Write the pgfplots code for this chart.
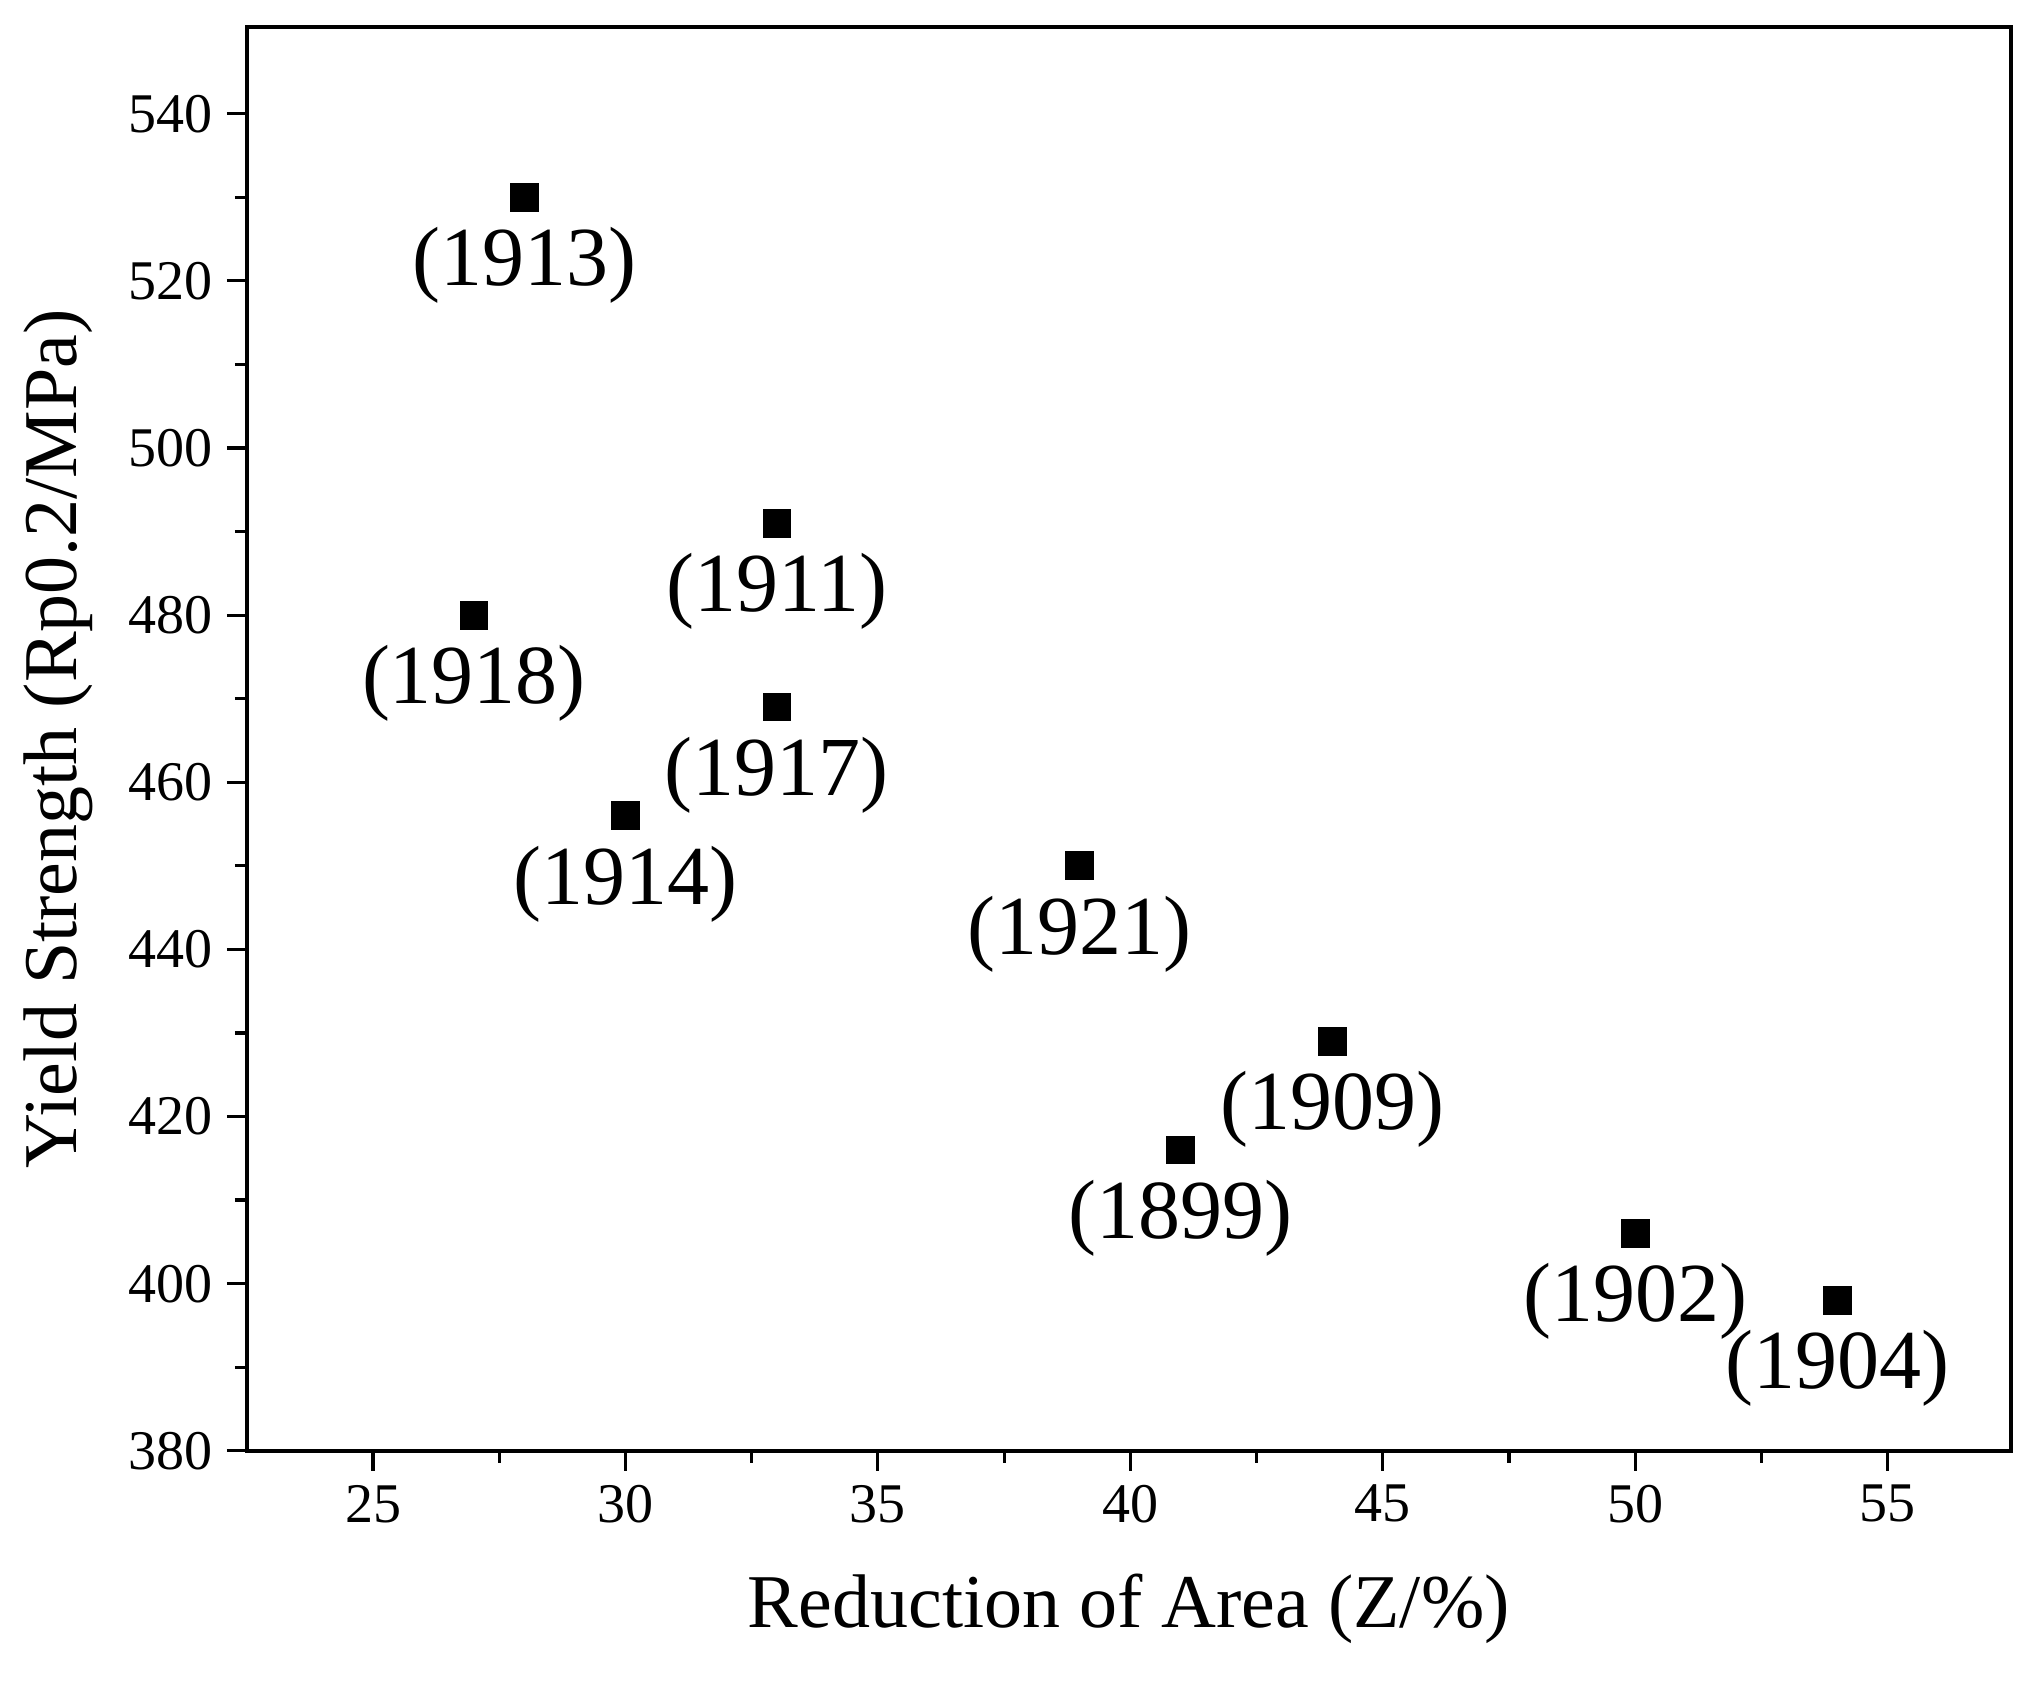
\documentclass[border=0pt]{standalone}
\usepackage{pgfplots}
\pgfplotsset{compat=1.18}
\usepackage{fontspec}
\setmainfont{Liberation Serif}
\begin{document}
\begin{tikzpicture}
\path[use as bounding box] (-61.7pt,-60.5pt) rectangle (447.3pt,362.7pt);
\begin{axis}[
  at={(0,0)}, anchor=south west, scale only axis,
  width=441pt, height=356pt,
  xmin=22.5, xmax=57.44, ymin=380, ymax=550.4,
  xtick={25,30,...,55}, ytick={380,400,...,540},
  minor x tick num=1, minor y tick num=1,
  tick align=outside, xtick pos=bottom, ytick pos=left,
  major tick length=5pt, minor tick length=3pt,
  tick style={black, line width=0.8pt},
  axis line style={line width=1pt},
  /pgf/number format/assume math mode=true,
  ticklabel style={font=\fontsize{14}{16}\selectfont},
  xlabel={Reduction of Area (Z/\%)}, ylabel={Yield Strength (Rp0.2/MPa)},
  label style={font=\fontsize{19}{22}\selectfont},
  xlabel style={yshift=-6pt}, ylabel style={yshift=2pt},
  nodes near coords, point meta=explicit symbolic,
  every node near coord/.style={anchor=north, yshift=-4pt, font=\fontsize{21}{23}\selectfont, black},
]
\addplot[only marks, mark=square*, mark size=3.4pt, black] table[meta=lab] {
x y lab
27 480 (1918)
28 530 (1913)
30 456 (1914)
33 491 (1911)
33 469 (1917)
39 450 (1921)
41 416 (1899)
44 429 (1909)
50 406 (1902)
54 398 (1904)
};
\end{axis}
\end{tikzpicture}
\end{document}
